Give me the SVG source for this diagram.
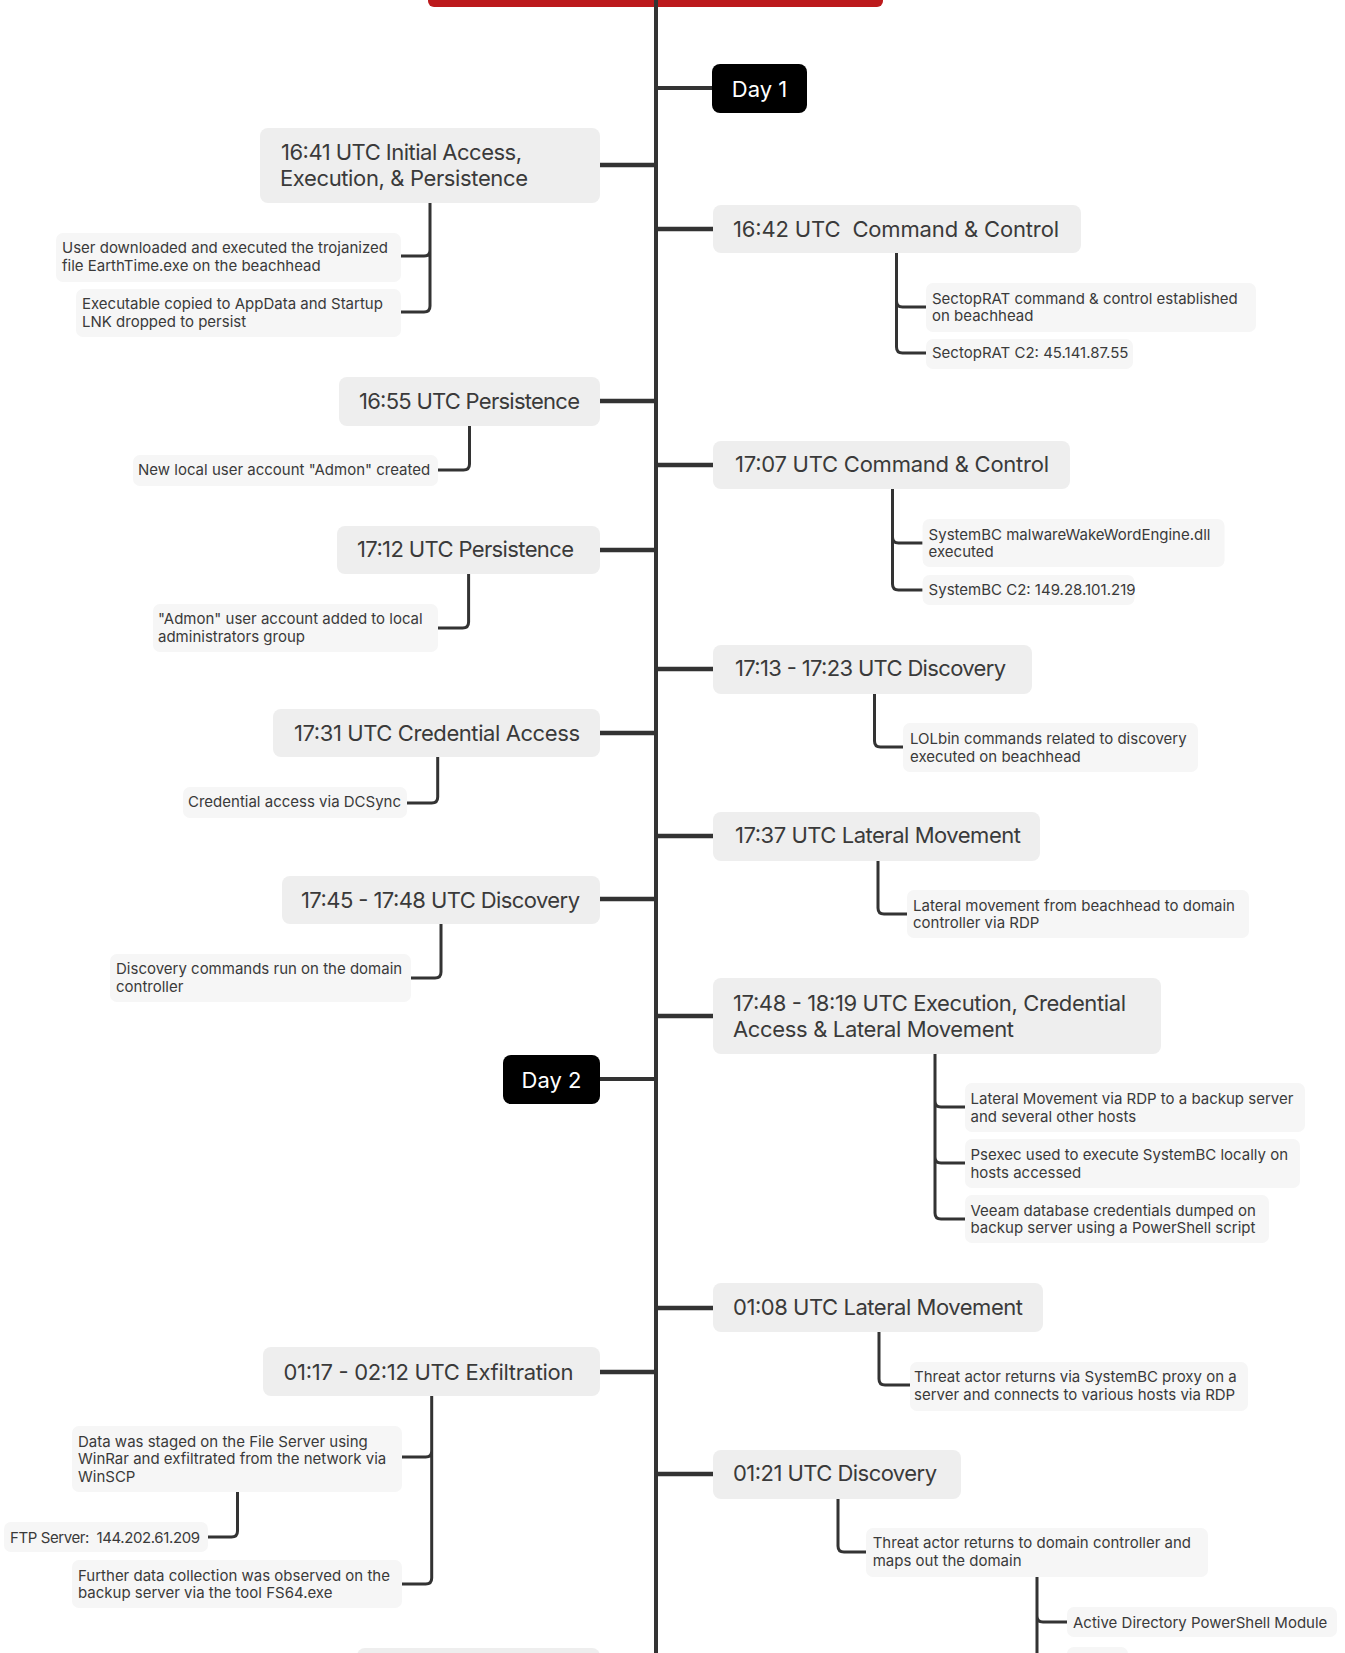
<svg xmlns="http://www.w3.org/2000/svg" width="1345" height="1653" viewBox="0 0 1345 1653">
<style>
text{font-family:Inter,"Noto Sans","Liberation Sans",sans-serif;fill:#3a3a3a}
.t rect{fill:#eeeeee}
.s rect{fill:#f6f6f6}
.d rect{fill:#000}
.t text{font-size:22px}
.s text{font-size:15px}
.d text{font-size:22px;fill:#fff;text-anchor:middle}
#connectors path{fill:none;stroke:#333;stroke-linecap:butt}
.main{stroke-width:4}
.br{stroke-width:4.5}
.sb{stroke-width:3}
</style>
<rect x="428" y="-12" width="455" height="19" rx="6" fill="#bc1a1c"/>
<g id="connectors">
<path class="main" d="M656 0V1653"/>
<path class="main" d="M656 88H712M656 1079H600"/>
<path class="br" d="M656 165H600M656 401H600M656 550H600M656 733H600M656 899H600M656 1372H600M656 229H713M656 465H713M656 669H713M656 836H713M656 1016H713M656 1308H713M656 1474H713"/>
<path class="sb" d="M430 203V250Q430 256 424 256H401M430 203V306Q430 312 424 312H401"/>
<path class="sb" d="M469.5 426V464Q469.5 470 463.5 470H438"/>
<path class="sb" d="M468.6 574V622Q468.6 628 462.6 628H438"/>
<path class="sb" d="M437.7 757V797Q437.7 803 431.7 803H407"/>
<path class="sb" d="M441 924V972Q441 978 435 978H411"/>
<path class="sb" d="M431.7 1396V1451Q431.7 1457 425.7 1457H402M431.7 1396V1578Q431.7 1584 425.7 1584H402"/>
<path class="sb" d="M237.5 1492V1531Q237.5 1537 231.5 1537H208"/>
<path class="sb" d="M896.5 253V301Q896.5 307 902.5 307H926M896.5 253V347Q896.5 353 902.5 353H926"/>
<path class="sb" d="M892.5 489V537Q892.5 543 898.5 543H922.6M892.5 489V584Q892.5 590 898.5 590H922.6"/>
<path class="sb" d="M874.5 694V741Q874.5 747 880.5 747H903"/>
<path class="sb" d="M878 861V908Q878 914 884 914H907"/>
<path class="sb" d="M935 1054V1101Q935 1107 941 1107H965M935 1054V1157Q935 1163 941 1163H965M935 1054V1213Q935 1219 941 1219H965"/>
<path class="sb" d="M879 1332V1379Q879 1385 885 1385H910"/>
<path class="sb" d="M838 1499V1546Q838 1552 844 1552H866"/>
<path class="sb" d="M1037 1577V1616Q1037 1622 1043 1622H1067M1037 1577V1653"/>
</g>
<g id="day1" class="d"><rect x="712" y="64" width="95" height="49" rx="8"/><text x="759.5" y="96.5">Day 1</text></g>
<g id="t1641" class="t"><rect x="260" y="128" width="340" height="75" rx="8"/><text x="281" y="160" textLength="241">16:41 UTC Initial Access,</text><text x="280" y="186" textLength="248">Execution, &amp; Persistence</text></g>
<g id="s1" class="s"><rect x="56" y="233" width="345" height="49" rx="7"/><text x="62" y="253">User downloaded and executed the trojanized</text><text x="62" y="271">file EarthTime.exe on the beachhead</text></g>
<g id="s2" class="s"><rect x="76" y="289" width="325" height="48" rx="7"/><text x="82" y="309">Executable copied to AppData and Startup</text><text x="82" y="327">LNK dropped to persist</text></g>
<g id="t1642" class="t"><rect x="713" y="205" width="368" height="48" rx="8"/><text x="733" y="237" textLength="326" xml:space="preserve">16:42 UTC  Command &amp; Control</text></g>
<g id="r1" class="s"><rect x="926" y="283" width="330" height="49" rx="7"/><text x="932" y="304">SectopRAT command &amp; control established</text><text x="932" y="321">on beachhead</text></g>
<g id="r2" class="s"><rect x="926" y="339" width="207" height="30" rx="7"/><text x="932" y="358">SectopRAT C2: 45.141.87.55</text></g>
<g id="t1655" class="t"><rect x="339" y="377" width="261" height="49" rx="8"/><text x="359" y="409" textLength="221">16:55 UTC Persistence</text></g>
<g id="s3" class="s"><rect x="133" y="455" width="305" height="31" rx="7"/><text x="138" y="475">New local user account "Admon" created</text></g>
<g id="t1707" class="t"><rect x="713" y="441" width="357" height="48" rx="8"/><text x="735" y="472" textLength="314">17:07 UTC Command &amp; Control</text></g>
<g id="r3" class="s"><rect x="922.6" y="519" width="302" height="48" rx="7"/><text x="928.6" y="540">SystemBC malwareWakeWordEngine.dll</text><text x="928.6" y="557">executed</text></g>
<g id="r4" class="s"><rect x="922.6" y="575" width="212" height="30" rx="7"/><text x="928.6" y="595">SystemBC C2: 149.28.101.219</text></g>
<g id="t1712" class="t"><rect x="337" y="526" width="263" height="48" rx="8"/><text x="357" y="557" textLength="217">17:12 UTC Persistence</text></g>
<g id="s4" class="s"><rect x="153" y="604" width="285" height="48" rx="7"/><text x="158" y="624">"Admon" user account added to local</text><text x="158" y="642">administrators group</text></g>
<g id="t1713" class="t"><rect x="713" y="645" width="319" height="49" rx="8"/><text x="735" y="676" textLength="271">17:13 - 17:23 UTC Discovery</text></g>
<g id="r5" class="s"><rect x="903" y="723" width="295" height="49" rx="7"/><text x="910" y="744">LOLbin commands related to discovery</text><text x="910" y="762">executed on beachhead</text></g>
<g id="t1731" class="t"><rect x="273" y="709" width="327" height="48" rx="8"/><text x="294" y="741" textLength="286">17:31 UTC Credential Access</text></g>
<g id="s5" class="s"><rect x="183" y="787" width="224" height="31" rx="7"/><text x="188" y="807">Credential access via DCSync</text></g>
<g id="t1737" class="t"><rect x="713" y="812" width="327" height="49" rx="8"/><text x="735" y="843" textLength="286">17:37 UTC Lateral Movement</text></g>
<g id="r6" class="s"><rect x="907" y="890" width="342" height="48" rx="7"/><text x="913" y="911">Lateral movement from beachhead to domain</text><text x="913" y="928">controller via RDP</text></g>
<g id="t1745" class="t"><rect x="282" y="876" width="318" height="48" rx="8"/><text x="301" y="908" textLength="279">17:45 - 17:48 UTC Discovery</text></g>
<g id="s6" class="s"><rect x="110" y="954" width="301" height="48" rx="7"/><text x="116" y="974">Discovery commands run on the domain</text><text x="116" y="992">controller</text></g>
<g id="t1748" class="t"><rect x="713" y="978" width="448" height="76" rx="8"/><text x="733" y="1011" textLength="393">17:48 - 18:19 UTC Execution, Credential</text><text x="733" y="1037" textLength="281">Access &amp; Lateral Movement</text></g>
<g id="day2" class="d"><rect x="503" y="1055" width="97" height="49" rx="8"/><text x="551.5" y="1087.5">Day 2</text></g>
<g id="r7" class="s"><rect x="965" y="1083" width="340" height="49" rx="7"/><text x="970.5" y="1104">Lateral Movement via RDP to a backup server</text><text x="970.5" y="1122">and several other hosts</text></g>
<g id="r8" class="s"><rect x="965" y="1139" width="335" height="49" rx="7"/><text x="970.5" y="1160">Psexec used to execute SystemBC locally on</text><text x="970.5" y="1178">hosts accessed</text></g>
<g id="r9" class="s"><rect x="965" y="1195" width="304" height="48" rx="7"/><text x="970.5" y="1216">Veeam database credentials dumped on</text><text x="970.5" y="1233">backup server using a PowerShell script</text></g>
<g id="t0108" class="t"><rect x="713" y="1283" width="330" height="49" rx="8"/><text x="733" y="1315" textLength="290">01:08 UTC Lateral Movement</text></g>
<g id="r10" class="s"><rect x="910" y="1362" width="338" height="49" rx="7"/><text x="914" y="1382">Threat actor returns via SystemBC proxy on a</text><text x="914" y="1400">server and connects to various hosts via RDP</text></g>
<g id="t0117" class="t"><rect x="263" y="1347" width="337" height="49" rx="8"/><text x="283.5" y="1380" textLength="290">01:17 - 02:12 UTC Exfiltration</text></g>
<g id="s7" class="s"><rect x="72" y="1426" width="330" height="66" rx="7"/><text x="78" y="1447">Data was staged on the File Server using</text><text x="78" y="1464">WinRar and exfiltrated from the network via</text><text x="78" y="1482">WinSCP</text></g>
<g id="s8" class="s"><rect x="4" y="1522" width="204" height="30" rx="7"/><text x="10" y="1543" textLength="190" xml:space="preserve">FTP Server:  144.202.61.209</text></g>
<g id="s9" class="s"><rect x="72" y="1560" width="330" height="48" rx="7"/><text x="78" y="1581">Further data collection was observed on the</text><text x="78" y="1598">backup server via the tool FS64.exe</text></g>
<g id="t0121" class="t"><rect x="713" y="1450" width="248" height="49" rx="8"/><text x="733" y="1481" textLength="204">01:21 UTC Discovery</text></g>
<g id="r11" class="s"><rect x="866" y="1528" width="342" height="49" rx="7"/><text x="872.7" y="1548">Threat actor returns to domain controller and</text><text x="872.7" y="1566">maps out the domain</text></g>
<g id="r12" class="s"><rect x="1067" y="1607" width="270" height="30" rx="7"/><text x="1073" y="1628">Active Directory PowerShell Module</text></g>
<g id="r13" class="s"><rect x="1067" y="1647" width="61" height="30" rx="7"/></g>
<g id="tlast" class="t"><rect x="357" y="1648" width="243" height="49" rx="8"/></g>
</svg>
